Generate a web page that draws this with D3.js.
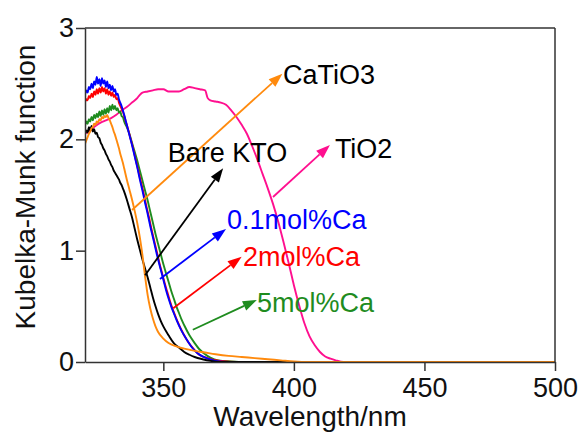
<!DOCTYPE html>
<html>
<head>
<meta charset="utf-8">
<script src="https://cdn.jsdelivr.net/npm/d3@7"></script>
<style>
  html, body { margin: 0; padding: 0; background: #fff; }
  svg { display: block; font-family: "Liberation Sans", Arial, sans-serif; }
</style>
</head>
<body>
<svg id="chart" width="581" height="432"></svg>
<script>
// Kubelka-Munk spectra, wavelength in nm
const bareKtoNm = [320,320.5,321,321.5,322,322.5,323,323.5,324,324.5,325,325.5,326,326.5,327,327.5,328,328.5,329,329.5,330,330.5,331,331.5,332,332.5,333,333.5,334,334.5,335,336,337,338,339,340,341,342,343,344,345,346,347,348,349,350,352,354,356,358,360,362,365,368,372,500];
const bareKtoKM = [2.05,2.08,2.06,2.11,2.08,2.12,2.07,2.09,2.05,2.06,2.02,2.01,1.97,1.95,1.92,1.90,1.87,1.85,1.82,1.80,1.77,1.75,1.72,1.70,1.68,1.66,1.64,1.61,1.59,1.56,1.53,1.46,1.38,1.30,1.20,1.10,1.01,0.92,0.84,0.76,0.67,0.58,0.50,0.43,0.37,0.32,0.24,0.17,0.13,0.09,0.065,0.045,0.025,0.01,0,0];

const ca01Nm = [320,320.5,321,321.5,322,322.5,323,323.5,324,324.5,325,325.5,326,326.5,327,327.5,328,328.5,329,329.5,330,330.5,331,331.5,332,332.5,333,334,335,336,337,338,339,340,341,342,343,344,345,346,347,348,349,350,351,352,353,354,355,357,359,361,363,365,367,370,375,500];
const ca01KM = [2.40,2.44,2.42,2.47,2.45,2.50,2.46,2.52,2.49,2.56,2.50,2.54,2.48,2.55,2.50,2.53,2.47,2.52,2.46,2.49,2.44,2.48,2.43,2.45,2.40,2.41,2.36,2.30,2.22,2.13,2.04,1.95,1.85,1.75,1.64,1.54,1.43,1.33,1.22,1.12,1.02,0.92,0.83,0.74,0.65,0.57,0.50,0.44,0.38,0.28,0.20,0.13,0.08,0.05,0.03,0.01,0,0];

const ca2Nm = [320,320.5,321,321.5,322,322.5,323,323.5,324,324.5,325,325.5,326,326.5,327,327.5,328,328.5,329,329.5,330,330.5,331,331.5,332,332.5,333,333.5,334.5,335.5,336.5,337.5,338.5,339.5,340.5,341.5,342.5,343.5,344.5,345.5,346.5,347.5,348.5,349.5,350.5,351.5,352.5,353.5,354.5,355.5,357.5,359.5,361.5,363.5,365.5,368,372,378,500];
const ca2KM = [2.33,2.36,2.35,2.39,2.37,2.41,2.38,2.43,2.40,2.45,2.41,2.46,2.42,2.47,2.43,2.46,2.41,2.45,2.40,2.43,2.39,2.42,2.38,2.40,2.36,2.37,2.33,2.30,2.25,2.17,2.09,2.00,1.91,1.81,1.71,1.61,1.51,1.40,1.30,1.19,1.09,0.99,0.89,0.80,0.71,0.63,0.55,0.48,0.42,0.36,0.26,0.18,0.12,0.07,0.045,0.025,0.01,0,0];

const ca5Nm = [320,320.5,321,321.5,322,322.5,323,323.5,324,324.5,325,325.5,326,326.5,327,327.5,328,328.5,329,329.5,330,330.5,331,331.5,332,332.5,333,333.5,334,334.5,335,336,337,338,339,340,341,342,343,344,345,346,347,348,349,350,351,352,353,354,355,356,357,358,360,362,364,366,368,371,376,381,500];
const ca5KM = [2.12,2.16,2.14,2.18,2.16,2.20,2.17,2.22,2.19,2.23,2.20,2.25,2.21,2.26,2.22,2.27,2.23,2.28,2.24,2.30,2.26,2.31,2.27,2.30,2.26,2.28,2.24,2.25,2.21,2.20,2.16,2.11,2.05,1.97,1.89,1.81,1.72,1.63,1.54,1.45,1.35,1.25,1.15,1.06,0.97,0.88,0.80,0.72,0.64,0.57,0.50,0.44,0.38,0.33,0.24,0.17,0.11,0.07,0.04,0.015,0.005,0,0];

const catio3Nm = [320,320.5,321,321.5,322,322.5,323,323.5,324,324.5,325,325.5,326,326.5,327,327.5,328,328.5,329,329.5,330,330.5,331,331.5,332,332.5,333,333.5,334,334.5,335,336,337,338,339,340,341,342,343,344,345,346,347,348,350,352,355,358,362,366,370,375,380,385,390,395,400,405,500];
const catio3KM = [1.96,1.99,2.02,2.05,2.07,2.10,2.11,2.14,2.13,2.16,2.15,2.18,2.17,2.20,2.19,2.21,2.20,2.22,2.19,2.17,2.14,2.11,2.07,2.04,2.00,1.96,1.92,1.87,1.83,1.79,1.74,1.64,1.55,1.46,1.36,1.25,1.12,0.96,0.77,0.60,0.48,0.39,0.32,0.27,0.21,0.17,0.14,0.12,0.10,0.085,0.07,0.055,0.045,0.035,0.025,0.015,0.005,0,0];

const tio2Nm = [320,322,324,326,328,330,332,334,336,338,340,341,342,344,346,348,350,352,354,356,358,360,362,364,366,367,368,370,372,374,376,378,380,382,384,386,388,390,392,394,396,398,400,402,404,406,408,410,412,414,416,419,500];
const tio2KM = [2.05,2.08,2.12,2.15,2.17,2.19,2.22,2.26,2.29,2.33,2.37,2.40,2.42,2.43,2.44,2.45,2.45,2.43,2.43,2.43,2.45,2.47,2.46,2.45,2.44,2.37,2.35,2.34,2.33,2.31,2.26,2.20,2.13,2.05,1.94,1.82,1.69,1.56,1.42,1.26,1.08,0.89,0.69,0.51,0.35,0.23,0.15,0.09,0.05,0.03,0.015,0,0];

// axis ticks
const xTicks = [350, 400, 450, 500];
const yTicks = [0, 1, 2, 3];

// series: name, colour, data arrays (drawn in this order)
const seriesList = [
  { name: "TiO2",      color: "#ff0f8f", nm: tio2Nm,   km: tio2KM },
  { name: "5mol%Ca",   color: "#1f8c1f", nm: ca5Nm,    km: ca5KM },
  { name: "2mol%Ca",   color: "#ff0000", nm: ca2Nm,    km: ca2KM },
  { name: "0.1mol%Ca", color: "#0000ff", nm: ca01Nm,   km: ca01KM },
  { name: "Bare KTO",  color: "#000000", nm: bareKtoNm, km: bareKtoKM },
  { name: "CaTiO3",    color: "#ff8a0d", nm: catio3Nm, km: catio3KM }
];

// annotation labels with arrows (data coordinates: nm, K-M)
const labelText   = ["CaTiO3", "TiO2", "Bare KTO", "0.1mol%Ca", "2mol%Ca", "5mol%Ca"];
const labelColor  = ["#000000", "#000000", "#000000", "#0000ff", "#ff0000", "#1f8c1f"];
const arrowColor  = ["#ff8a0d", "#ff0f8f", "#000000", "#0000ff", "#ff0000", "#1f8c1f"];
const arrowFrom   = [[338.0, 1.365], [392.0, 1.482], [343.0, 0.78], [348.7, 0.746], [353.8, 0.482], [361.3, 0.29]];
const arrowTo     = [[395.6, 2.59], [413.8, 1.949], [372.9, 1.74], [374.0, 1.195], [380.0, 0.946], [385.8, 0.557]];
const labelAt     = [[395.8, 2.497], [415.7, 1.832], [374.6, 1.797], [374.4, 1.195], [380.5, 0.862], [385.9, 0.449]];
const labelAnchor = ["start", "start", "middle", "start", "start", "start"];

const svg = d3.select("#chart");
const margin = { left: 85, right: 26, top: 28, bottom: 70 };
const W = 581, H = 432;
const innerW = W - margin.left - margin.right;
const innerH = H - margin.top - margin.bottom;

const x = d3.scaleLinear().domain([320, 500]).range([margin.left, margin.left + innerW]);
const y = d3.scaleLinear().domain([0, 3]).range([margin.top + innerH, margin.top]);

svg.append("rect").attr("width", W).attr("height", H).attr("fill", "#fff");

const defs = svg.append("defs");
defs.append("clipPath").attr("id", "plotClip")
  .append("rect")
  .attr("x", margin.left).attr("y", margin.top - 2)
  .attr("width", innerW).attr("height", innerH + 2);

// curves
const line = d3.line()
  .x(d => x(d[0]))
  .y(d => y(d[1]))
  .curve(d3.curveMonotoneX);

const curves = svg.append("g").attr("clip-path", "url(#plotClip)");
seriesList.forEach(s => {
  const pts = s.nm.map((v, i) => [v, s.km[i]]);
  curves.append("path")
    .attr("d", line(pts))
    .attr("fill", "none")
    .attr("stroke", s.color)
    .attr("stroke-width", 1.9)
    .attr("stroke-linejoin", "round");
});

// frame and axes
const axisColor = "#333";
svg.append("line")
  .attr("x1", x(320)).attr("x2", x(500))
  .attr("y1", y(3)).attr("y2", y(3))
  .attr("stroke", axisColor).attr("stroke-width", 1.5);
svg.append("line")
  .attr("x1", x(500)).attr("x2", x(500))
  .attr("y1", y(3)).attr("y2", y(0))
  .attr("stroke", axisColor).attr("stroke-width", 1.5);

const xAxis = svg.append("g")
  .attr("transform", `translate(0,${y(0)})`)
  .call(d3.axisBottom(x).tickValues(xTicks).tickFormat(d3.format("d"))
    .tickSize(9).tickSizeOuter(0).tickPadding(7));
const yAxis = svg.append("g")
  .attr("transform", `translate(${x(320)},0)`)
  .call(d3.axisLeft(y).tickValues(yTicks).tickFormat(d3.format("d"))
    .tickSize(9).tickSizeOuter(0).tickPadding(2));

[xAxis, yAxis].forEach(g => {
  g.select(".domain").attr("stroke", axisColor).attr("stroke-width", 1.5);
  g.selectAll(".tick line").attr("stroke", axisColor).attr("stroke-width", 1.5);
  g.selectAll(".tick text")
    .attr("fill", "#111")
    .style("font-size", "27px")
    .style("font-family", "'Liberation Sans', Arial, sans-serif");
});

// axis titles
svg.append("text")
  .attr("x", 310)
  .attr("y", 426)
  .attr("text-anchor", "middle")
  .attr("fill", "#111")
  .style("font-size", "28px")
  .text("Wavelength/nm");
svg.append("text")
  .attr("transform", `translate(35,${(y(0) + y(3)) / 2 - 8}) rotate(-90)`)
  .attr("text-anchor", "middle")
  .attr("fill", "#111")
  .style("font-size", "28px")
  .text("Kubelka-Munk function");

// annotation arrows
const ann = svg.append("g");
labelText.forEach((t, i) => {
  const x1 = x(arrowFrom[i][0]), y1 = y(arrowFrom[i][1]);
  const x2 = x(arrowTo[i][0]),   y2 = y(arrowTo[i][1]);
  const ang = Math.atan2(y2 - y1, x2 - x1);
  const headLen = 14, headHalf = 5;
  const bx = x2 - headLen * Math.cos(ang), by = y2 - headLen * Math.sin(ang);
  ann.append("line")
    .attr("x1", x1).attr("y1", y1).attr("x2", bx).attr("y2", by)
    .attr("stroke", arrowColor[i]).attr("stroke-width", 1.8);
  const px = -Math.sin(ang), py = Math.cos(ang);
  ann.append("path")
    .attr("d", `M${x2},${y2}L${bx + px * headHalf},${by + py * headHalf}L${bx - px * headHalf},${by - py * headHalf}Z`)
    .attr("fill", arrowColor[i]);
  ann.append("text")
    .attr("x", x(labelAt[i][0]))
    .attr("y", y(labelAt[i][1]))
    .attr("text-anchor", labelAnchor[i])
    .attr("fill", labelColor[i])
    .style("font-size", "27px")
    .text(t);
});
</script>
</body>
</html>
